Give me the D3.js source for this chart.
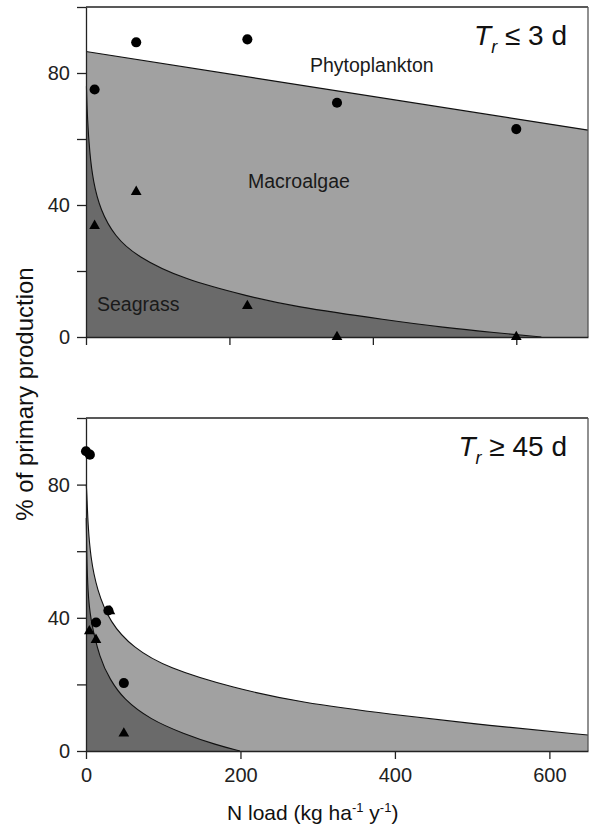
<!DOCTYPE html>
<html>
<head>
<meta charset="utf-8">
<script src="https://cdn.jsdelivr.net/npm/d3@7"></script>
<style>
  html, body { margin: 0; padding: 0; background: #fff; }
  svg { display: block; font-family: "Liberation Sans", Arial, Helvetica, sans-serif; }
  .axis text { font-size: 20px; fill: #222; }
  .axis path, .axis line { stroke: #222; stroke-width: 1.3; }
</style>
</head>
<body>
<svg id="chart" width="594" height="827"></svg>
<script>
// ---- Panel A: short residence time (Tr <= 3 d) ----
const loadA = [12, 70, 225, 350, 600];
const totalA = [75, 89.3, 90.2, 71, 63];        // circles
const seagrassObsA = [33.7, 44, 9.4, 0, 0];       // triangles
const phytoLineA = [[0, 86.5], [700, 62.7]];      // phytoplankton / macroalgae boundary
const seagrassCurveA = [
  [0.6, 76], [2, 66], [5, 56], [10, 47], [20, 38.5], [40, 30.5], [70, 24.5],
  [135, 17.5], [229, 12.2], [285, 9.4], [424, 5], [498, 2.9], [570, 1.3], [635, 0]
];

// ---- Panel B: long residence time (Tr >= 45 d) ----
const totalB = [[0, 90], [5, 89], [13, 38.6], [29, 42.2], [49, 20.4]];
const seagrassObsB = [[4.3, 36], [12.9, 33.4], [31, 42], [49, 5.3]];
const macroCurveB = [
  [0.3, 80], [1, 78], [2.5, 68], [6, 58], [13.9, 48.6], [31, 38.5], [61, 31],
  [104.5, 25], [191, 18.9], [277, 14.6], [394, 11], [523, 7.6], [650, 4.8]
];
const seagrassCurveB = [
  [0.3, 70], [1, 58], [2.5, 48], [5.2, 40], [18.1, 27.5], [31.1, 21.5],
  [48.3, 15.6], [82.9, 9.5], [126, 5.2], [169, 1.8], [199.4, 0]
];

const yTicks = [0, 20, 40, 60, 80, 100];
const yTickLabels = { 0: "0", 40: "40", 80: "80" };
const xTicks = [0, 200, 400, 600];

const colLight = "#a1a1a1";
const colDark = "#6a6a6a";

const svg = d3.select("#chart");
const left = 86, right = 588;

function panel(cfg) {
  const x = d3.scaleLinear().domain(cfg.xDomain).range([left, right]);
  const y = d3.scaleLinear().domain([0, 100]).range([cfg.bottom, cfg.top]);
  const g = svg.append("g");

  const area = d3.area().x(d => x(d[0])).y0(y(0)).y1(d => y(d[1])).curve(d3.curveBasis);
  const line = d3.line().x(d => x(d[0])).y(d => y(d[1])).curve(d3.curveBasis);

  cfg.layers.forEach(L => {
    g.append("path").datum(L.data).attr("d", area).attr("fill", L.fill);
  });
  cfg.layers.forEach(L => {
    g.append("path").datum(L.data).attr("d", line)
      .attr("fill", "none").attr("stroke", "#111").attr("stroke-width", 1.1);
  });

  // frame: top and right borders
  g.append("line").attr("x1", left).attr("x2", right).attr("y1", y(100)).attr("y2", y(100))
    .attr("stroke", "#222").attr("stroke-width", 1.3);
  g.append("line").attr("x1", right).attr("x2", right).attr("y1", y(100)).attr("y2", y(0))
    .attr("stroke", "#555").attr("stroke-width", 1.3);

  // axes
  g.append("g").attr("class", "axis").attr("transform", `translate(${left},0)`)
    .call(d3.axisLeft(y).tickValues(yTicks).tickSize(9).tickSizeOuter(0).tickPadding(7)
      .tickFormat(d => yTickLabels[d] || ""));
  g.append("g").attr("class", "axis").attr("transform", `translate(0,${y(0)})`)
    .call(d3.axisBottom(x).tickValues(xTicks).tickSize(8).tickSizeOuter(0).tickPadding(9)
      .tickFormat(cfg.showX ? d3.format("d") : () => ""));

  // observations
  g.selectAll(".circ").data(cfg.circles).join("path")
    .attr("transform", d => `translate(${x(d[0])},${y(d[1])})`)
    .attr("d", d3.symbol(d3.symbolCircle, 80)).attr("fill", "#000");
  g.selectAll(".tri").data(cfg.triangles).join("path")
    .attr("transform", d => `translate(${x(d[0])},${y(d[1])})`)
    .attr("d", d3.symbol(d3.symbolTriangle, 50)).attr("fill", "#000");

  // residence-time label
  const t = g.append("text").attr("x", 567).attr("y", cfg.top + 38)
    .attr("text-anchor", "end").attr("font-size", 28).attr("fill", "#111");
  t.append("tspan").attr("font-style", "italic").text("T");
  t.append("tspan").attr("font-style", "italic").attr("font-size", 18).attr("dy", 8).text("r");
  t.append("tspan").attr("dy", -8).text(cfg.title);

  return { x, y, g };
}

const A = panel({
  xDomain: [0, 700], top: 7, bottom: 337, showX: false,
  layers: [
    { data: phytoLineA, fill: colLight },
    { data: seagrassCurveA, fill: colDark }
  ],
  circles: loadA.map((v, i) => [v, totalA[i]]),
  triangles: loadA.map((v, i) => [v, seagrassObsA[i]]),
  title: " \u2264 3 d"
});

const B = panel({
  xDomain: [0, 650], top: 418, bottom: 751, showX: true,
  layers: [
    { data: macroCurveB, fill: colLight },
    { data: seagrassCurveB, fill: colDark }
  ],
  circles: totalB,
  triangles: seagrassObsB,
  title: " \u2265 45 d"
});

// region names in panel A
const regionLabels = [
  { text: "Phytoplankton", x: 310, y: 72 },
  { text: "Macroalgae", x: 248, y: 188 },
  { text: "Seagrass", x: 97, y: 311 }
];
A.g.selectAll(".reg").data(regionLabels).join("text")
  .attr("x", d => d.x).attr("y", d => d.y).attr("font-size", 19.5).attr("fill", "#1a1a1a")
  .text(d => d.text);

// axis titles
svg.append("text").attr("transform", "translate(33,394) rotate(-90)")
  .attr("text-anchor", "middle").attr("font-size", 24).attr("fill", "#111")
  .text("% of primary production");

const xl = svg.append("text").attr("x", 227).attr("y", 820)
  .attr("font-size", 21).attr("fill", "#111");
xl.append("tspan").text("N load (kg ha");
xl.append("tspan").attr("font-size", 13).attr("dy", -8).text("-1");
xl.append("tspan").attr("dy", 8).text(" y");
xl.append("tspan").attr("font-size", 13).attr("dy", -8).text("-1");
xl.append("tspan").attr("dy", 8).text(")");
</script>
</body>
</html>
